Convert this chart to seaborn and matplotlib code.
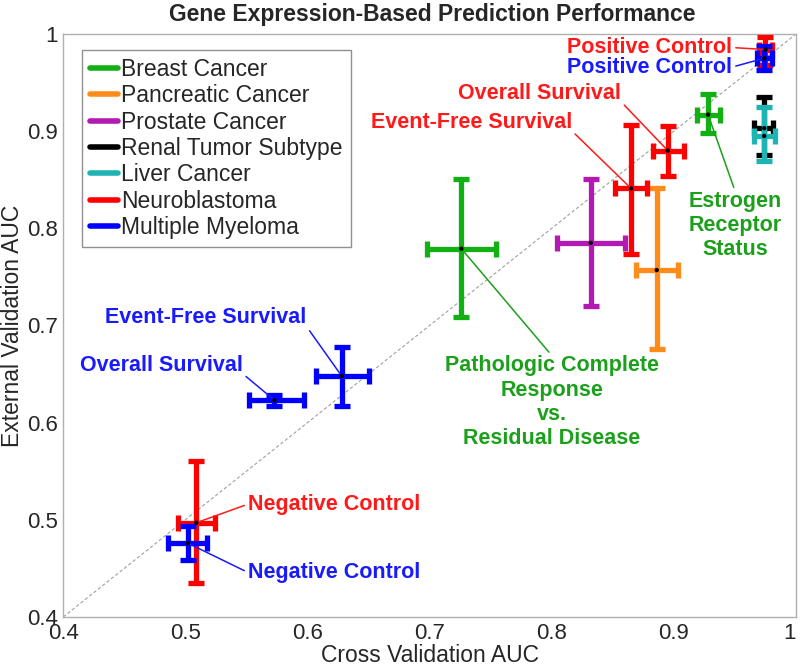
import numpy as np
import pandas as pd
import matplotlib
matplotlib.use("Agg")
import matplotlib.pyplot as plt
from matplotlib.lines import Line2D
from matplotlib import font_manager
import seaborn as sns

# one row per prediction task
groups = ["Breast Cancer", "Breast Cancer", "Pancreatic Cancer", "Prostate Cancer",
          "Renal Tumor Subtype", "Liver Cancer",
          "Neuroblastoma", "Neuroblastoma", "Neuroblastoma", "Neuroblastoma",
          "Multiple Myeloma", "Multiple Myeloma", "Multiple Myeloma", "Multiple Myeloma"]
cv_auc = [0.726, 0.928, 0.886, 0.832, 0.974, 0.974, 0.865, 0.895, 0.975, 0.509, 0.628, 0.573, 0.974, 0.502]
cv_lo = [0.698, 0.919, 0.869, 0.804, 0.966, 0.966, 0.852, 0.883, 0.970, 0.494, 0.607, 0.552, 0.968, 0.486]
cv_hi = [0.754, 0.938, 0.903, 0.860, 0.981, 0.983, 0.878, 0.908, 0.980, 0.524, 0.650, 0.597, 0.980, 0.518]
ext_auc = [0.779, 0.917, 0.757, 0.785, 0.903, 0.895, 0.841, 0.880, 0.984, 0.497, 0.648, 0.623, 0.975, 0.476]
ext_lo = [0.709, 0.898, 0.676, 0.720, 0.875, 0.869, 0.774, 0.854, 0.968, 0.435, 0.617, 0.617, 0.963, 0.459]
ext_hi = [0.851, 0.938, 0.841, 0.851, 0.935, 0.925, 0.906, 0.905, 0.997, 0.561, 0.678, 0.628, 0.988, 0.494]

legend_names = ["Breast Cancer", "Pancreatic Cancer", "Prostate Cancer", "Renal Tumor Subtype",
                "Liver Cancer", "Neuroblastoma", "Multiple Myeloma"]
palette = {"Breast Cancer": "#12b012", "Pancreatic Cancer": "#ff8c1a", "Prostate Cancer": "#b31ab3",
           "Renal Tumor Subtype": "#000000", "Liver Cancer": "#1fb4b4", "Neuroblastoma": "#ff0000",
           "Multiple Myeloma": "#0000ff"}

df = pd.DataFrame({"group": groups, "cv": cv_auc, "cv_lo": cv_lo, "cv_hi": cv_hi,
                   "ext": ext_auc, "ext_lo": ext_lo, "ext_hi": ext_hi})

# annotations: text, index of point, text position, alignment, anchor of leader line
notes = [
    ("Positive Control", 8, (0.948, 0.986), "right", (1, 0.5)),
    ("Positive Control", 12, (0.948, 0.966), "right", (1, 0.5)),
    ("Overall Survival", 7, (0.790, 0.939), "center", (1, 0.1)),
    ("Event-Free Survival", 6, (0.734, 0.909), "center", (1, 0.1)),
    ("Estrogen\nReceptor\nStatus", 1, (0.950, 0.803), "center", (0.5, 1)),
    ("Pathologic Complete\nResponse\nvs.\nResidual Disease", 0, (0.800, 0.621), "center", (0.5, 1)),
    ("Event-Free Survival", 10, (0.599, 0.708), "right", (1, 0.1)),
    ("Overall Survival", 11, (0.547, 0.659), "right", (1, 0.1)),
    ("Negative Control", 9, (0.551, 0.516), "left", (0, 0.5)),
    ("Negative Control", 13, (0.551, 0.446), "left", (0, 0.5)),
]
note_colors = {"Breast Cancer": "#1ca01c", "Neuroblastoma": "#ff1a1a", "Multiple Myeloma": "#1a1aff"}

sns.set_style("white")
plt.rcParams["font.family"] = ["Liberation Sans", "DejaVu Sans"]

fig = plt.figure(figsize=(8, 6.66), dpi=100)
ax = fig.add_axes([0.079, 0.0736, 0.916, 0.8754])

sns.lineplot(x=[0.4, 1.0], y=[0.4, 1.0], ax=ax, color="#a0a0a0", lw=0.8, dashes=(3, 2), zorder=1)

for i, row in df.iterrows():
    c = palette[row.group]
    ax.errorbar(row.cv, row.ext,
                xerr=[[row.cv - row.cv_lo], [row.cv_hi - row.cv]],
                yerr=[[row.ext - row.ext_lo], [row.ext_hi - row.ext]],
                fmt="none", ecolor=c, elinewidth=3.8, capsize=6, capthick=3.8, zorder=3)

sns.scatterplot(data=df, x="cv", y="ext", color="black", s=10, ax=ax, zorder=5, edgecolor="none")

for text, idx, pos, ha, rel in notes:
    c = note_colors[groups[idx]]
    ax.annotate(text, xy=(cv_auc[idx], ext_auc[idx]), xytext=pos, ha=ha, va="center",
                fontsize=15.5, fontweight="bold", color=c, linespacing=1.2,
                arrowprops=dict(arrowstyle="-", color=c, lw=1.1, shrinkA=0, shrinkB=0, relpos=rel),
                zorder=4)

ax.set_xlim(0.4, 1.0)
ax.set_ylim(0.4, 1.0)
ticks = [0.4, 0.5, 0.6, 0.7, 0.8, 0.9, 1.0]
tick_labels = ["0.4", "0.5", "0.6", "0.7", "0.8", "0.9", "1"]
ax.set_xticks(ticks)
ax.set_xticklabels(tick_labels)
ax.set_yticks(ticks)
ax.set_yticklabels(tick_labels)
ax.tick_params(length=0, labelsize=16, pad=4)
ax.get_xticklabels()[-1].set_horizontalalignment("right")
ax.set_xlabel("Cross Validation AUC", fontsize=16.5, labelpad=0)
ax.set_ylabel("External Validation AUC", fontsize=16.5, labelpad=2)
for s in ax.spines.values():
    s.set_color("#b0b0b0")
    s.set_linewidth(1.0)

handles = [Line2D([0], [0], color=palette[n], lw=4) for n in legend_names]
leg = ax.legend(handles, legend_names, loc="upper left", bbox_to_anchor=(0.026, 0.973),
                fontsize=16.5, handlelength=1.2, handletextpad=0.15, labelspacing=0.15,
                borderpad=0.35, borderaxespad=0, fancybox=False, framealpha=1)
leg.get_frame().set_edgecolor("#909090")
leg.get_frame().set_linewidth(1.0)

# title is set in a narrow bold face in the original
installed = {f.name for f in font_manager.fontManager.ttflist}
if "Liberation Sans Narrow" in installed:
    title_font, title_size = "Liberation Sans Narrow", 19
else:
    title_font, title_size = "Liberation Sans", 16.5
fig.suptitle("Gene Expression-Based Prediction Performance", x=0.54, y=0.995, fontsize=title_size,
             fontweight="bold", family=[title_font, "DejaVu Sans"])

fig.savefig("out.png", dpi=100)
